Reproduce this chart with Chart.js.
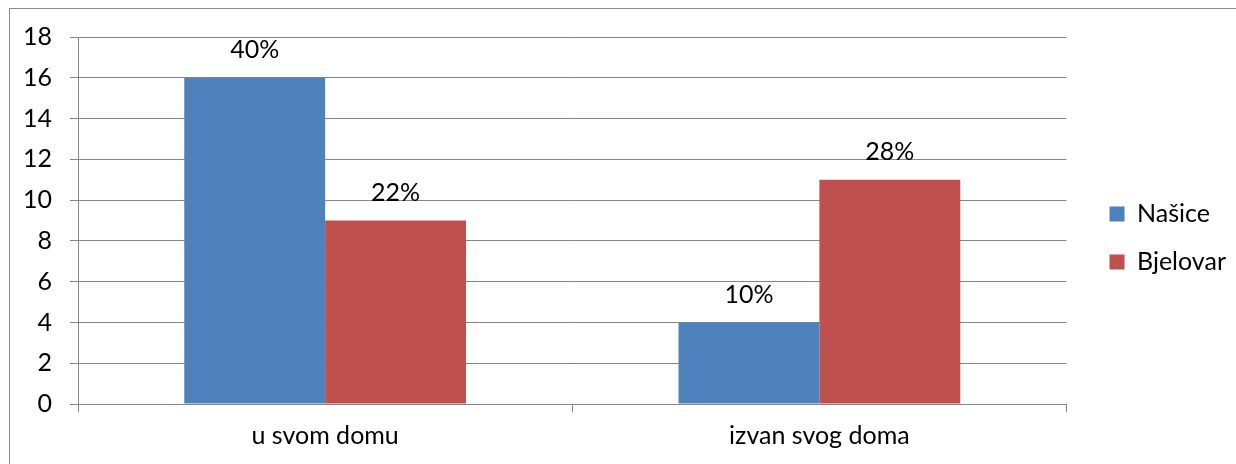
<!DOCTYPE html>
<html>
<head>
<meta charset="UTF-8">
<title>u svom domu / izvan svog doma</title>
<script src="https://cdn.jsdelivr.net/npm/chart.js@4/dist/chart.umd.min.js"></script>
<style>
  html, body { margin: 0; padding: 0; background: #fff; }
  #wrap { position: relative; width: 1236px; height: 464px; overflow: hidden; }
  #frame { position: absolute; left: 9px; top: 8px; width: 1400px; height: 600px; border: 1px solid #8c8c8c; box-sizing: border-box; }
  #wrap canvas { position: absolute; left: 0; top: 0; }
</style>
</head>
<body>
<div id="wrap">
  <div id="frame"></div>
  <canvas id="chart" width="1236" height="464"></canvas>
</div>
<script>
// data
var categories = ['u svom domu', 'izvan svog doma'];
var nasice = [16, 4];
var bjelovar = [9, 11];
var nasiceLabels = ['40%', '10%'];
var bjelovarLabels = ['22%', '28%'];
var seriesNames = ['Našice', 'Bjelovar'];

var FONT = 'Lato';
var FSIZE = 25;
var gridColor = '#868686';

// measure legend text so the legend box lands where it should
var mctx = document.createElement('canvas').getContext('2d');
mctx.font = FSIZE + 'px ' + FONT;
var textW = Math.max(mctx.measureText(seriesNames[0]).width, mctx.measureText(seriesNames[1]).width);
var legPad = 48 - FSIZE;
var legendW = legPad + 15 + FSIZE / 2 + textW + 10; // chart.js adds 10 for vertical legends
var legendLeft = 1111 - legPad;
var rightPad = Math.max(0, 1236 - legendLeft - legendW);

// labels above the bars
var barLabels = {
  id: 'barLabels',
  afterDatasetsDraw: function (chart) {
    var ctx = chart.ctx;
    var lists = [nasiceLabels, bjelovarLabels];
    ctx.save();
    ctx.font = FSIZE + 'px ' + FONT;
    ctx.fillStyle = '#000';
    ctx.textAlign = 'center';
    ctx.textBaseline = 'middle';
    chart.data.datasets.forEach(function (ds, di) {
      chart.getDatasetMeta(di).data.forEach(function (bar, i) {
        ctx.fillText(lists[di][i], bar.x, bar.y - 28);
      });
    });
    ctx.restore();
  }
};

Chart.defaults.font.family = FONT;
Chart.defaults.font.size = FSIZE;
Chart.defaults.color = '#000';

new Chart(document.getElementById('chart'), {
  type: 'bar',
  data: {
    labels: categories,
    datasets: [
      { label: seriesNames[0], data: nasice, backgroundColor: '#4F81BD', borderWidth: 0 },
      { label: seriesNames[1], data: bjelovar, backgroundColor: '#C0504D', borderWidth: 0 }
    ]
  },
  options: {
    responsive: false,
    animation: false,
    devicePixelRatio: 1,
    layout: { padding: { left: 0, top: 37, right: rightPad, bottom: 0 } },
    datasets: { bar: { categoryPercentage: 0.57, barPercentage: 1 } },
    scales: {
      x: {
        grid: { display: true, offset: true, drawOnChartArea: false, drawTicks: true, tickLength: 8, color: gridColor, lineWidth: 1 },
        border: { display: true, color: gridColor, width: 1 },
        ticks: { padding: 9, font: { size: FSIZE } },
        afterFit: function (s) { s.height = 60; }
      },
      y: {
        min: 0,
        max: 18,
        ticks: { stepSize: 2, padding: 18, font: { size: FSIZE } },
        grid: { color: gridColor, lineWidth: 1, tickLength: 8 },
        border: { display: true, color: gridColor, width: 1 },
        afterFit: function (s) { s.width = 78; }
      }
    },
    plugins: {
      tooltip: { enabled: false },
      subtitle: { display: true, text: '', position: 'right', weight: 500, padding: 0, font: { size: legendLeft - 1068, lineHeight: 1 } },
      legend: {
        position: 'right',
        align: 'center',
        fullSize: false,
        title: { display: true, text: ' ', padding: 0, font: { size: 35, lineHeight: 1 } },
        labels: { boxWidth: 15, boxHeight: 15, padding: legPad, color: '#000', font: { size: FSIZE } }
      }
    }
  },
  plugins: [barLabels]
});
</script>
</body>
</html>
